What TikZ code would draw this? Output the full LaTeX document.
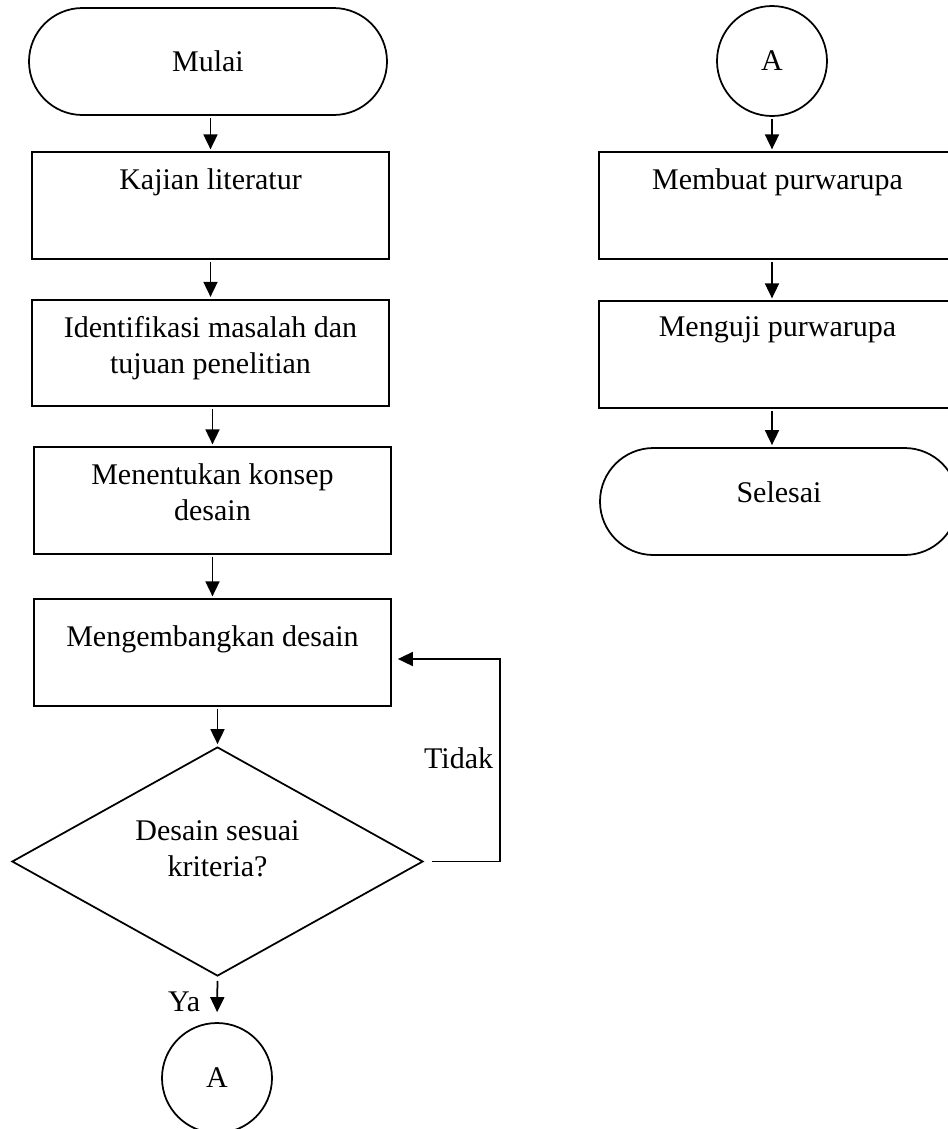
\documentclass[tikz,border=0pt]{standalone}
\usepackage{fontspec}
\setmainfont{Liberation Serif}
\usetikzlibrary{shapes.geometric,shapes.misc,arrows.meta}

% isi kotak: teks rata atas
\newcommand{\isi}[2][15pt]{\parbox[c][42.6pt][t]{140pt}{\centering\rule{0pt}{#1}#2}}

\tikzset{
    proses/.style={draw, rectangle, inner sep=0pt, minimum width=142.8pt, minimum height=42.6pt},
    terminal/.style={draw, rounded rectangle, inner sep=0pt, minimum width=143.2pt, minimum height=42.8pt},
    konektor/.style={draw, circle, inner sep=0pt, minimum size=44pt},
    keputusan/.style={draw, diamond, aspect=1.795, inner sep=0pt, minimum width=164.4pt, minimum height=91.6pt},
    panah/.style={-{Triangle[length=6pt,width=5.6pt]}, shorten <=0.8pt, shorten >=0.8pt}
}

\begin{document}
\begin{tikzpicture}[x=0.4pt, y=-0.4pt, line width=0.7pt, font=\fontsize{12pt}{14.4pt}\selectfont]
    \useasboundingbox (0,0) rectangle (948,1129);

    % kolom kiri
    \node[terminal] (mulai) at (208,61.5) {Mulai};
    \node[proses] (kajian) at (210.5,205.5) {\isi{Kajian literatur}};
    \node[proses] (identifikasi) at (210.5,353) {\isi{Identifikasi masalah dan\\tujuan penelitian}};
    \node[proses] (konsep) at (212.5,500.5) {\isi{Menentukan konsep\\desain}};
    \node[proses] (kembang) at (212.5,652.5) {\isi[19pt]{Mengembangkan desain}};
    \node[keputusan] (cek) at (217.5,861.5)
        {\parbox[c][35.2pt][t]{90pt}{\centering\rule{0pt}{9pt}Desain sesuai\\kriteria?}};
    \node[konektor] (kiriA) at (217,1078) {A};

    \draw[panah] (mulai.south -| kajian.north) -- (kajian.north);
    \draw[panah] (kajian) -- (identifikasi);
    \draw[panah] (identifikasi.south -| konsep.north) -- (konsep.north);
    \draw[panah] (konsep) -- (kembang);
    \draw[panah] (kembang.south -| cek.north) -- (cek.north);

    % cabang keputusan
    \coordinate (belok) at (500,659);
    \draw[panah, shorten <=3.2pt, shorten >=2.4pt] (cek.east)
        -| node[pos=0.756, left, inner sep=2.4pt] (tidak) {Tidak} (belok)
        -- (kembang.east |- belok);
    \draw[panah, shorten <=1.6pt, shorten >=4pt] (cek.south)
        -- node[pos=0.55, left, inner sep=6.5pt] (ya) {Ya} (kiriA.north);

    % kolom kanan
    \node[konektor] (kananA) at (772,61) {A};
    \node[proses] (buat) at (777.5,205.5) {\isi{Membuat purwarupa}};
    \node[proses] (uji) at (777.5,354.5) {\isi[14pt]{Menguji purwarupa}};
    \node[terminal, text depth=7.6pt] (selesai) at (779,501.5) {Selesai};

    \draw[panah] (kananA.south) -- (kananA.south |- buat.north);
    \draw[panah] (buat.south -| kananA) -- (uji.north -| kananA);
    \draw[panah] (uji.south -| kananA) -- (selesai.north -| kananA);

\end{tikzpicture}
\end{document}
